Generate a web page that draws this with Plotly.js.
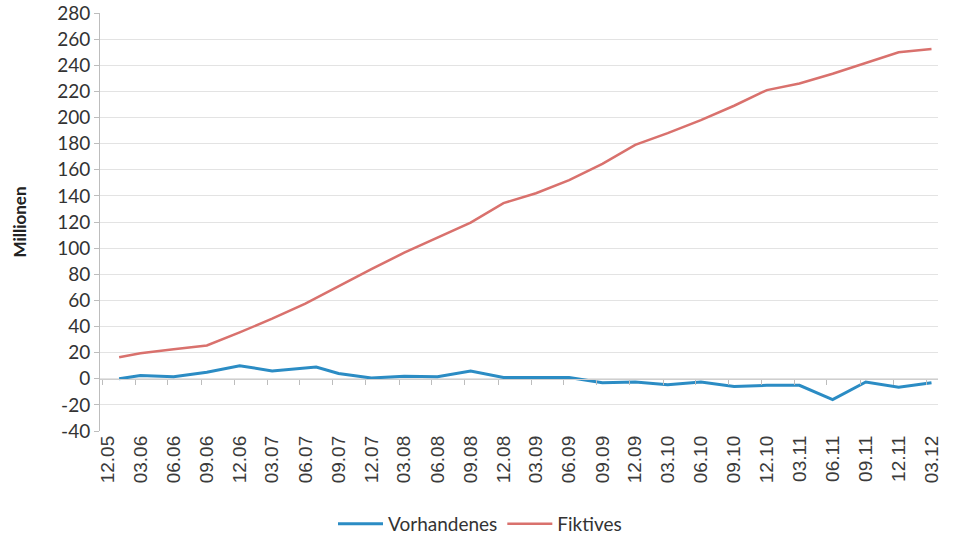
<!DOCTYPE html>
<html>
<head>
<meta charset="utf-8">
<script src="https://cdn.plot.ly/plotly-3.0.1.min.js"></script>
<style>
  body { margin: 0; background: #fff; }
  #chart { width: 960px; height: 540px; }
</style>
</head>
<body>
<div id="chart"></div>
<script>
// Vorhandenes (blue), month dates
var vorhDates = ['2006-01-01', '2006-03-01', '2006-06-01', '2006-09-01', '2006-12-01',
  '2007-03-01', '2007-07-01', '2007-09-01', '2007-12-01', '2008-03-01', '2008-06-01',
  '2008-09-01', '2008-12-01', '2009-03-01', '2009-06-01', '2009-09-01', '2009-12-01',
  '2010-03-01', '2010-06-01', '2010-09-01', '2010-12-01', '2011-03-01', '2011-06-01',
  '2011-09-01', '2011-12-01', '2012-03-01'];
var vorhValues = [0, 2.5, 1.5, 5, 10, 6, 9, 4, 0.5, 2, 1.5, 6, 1, 1, 1, -3, -2.5,
  -4.5, -2.5, -6, -5, -5, -16, -2.5, -6.5, -3];

// Fiktives (red)
var fiktDates = ['2006-01-01', '2006-03-01', '2006-06-01', '2006-09-01', '2006-12-01',
  '2007-03-01', '2007-06-01', '2007-09-01', '2007-12-01', '2008-03-01', '2008-06-01',
  '2008-09-01', '2008-12-01', '2009-03-01', '2009-06-01', '2009-09-01', '2009-12-01',
  '2010-03-01', '2010-06-01', '2010-09-01', '2010-12-01', '2011-03-01', '2011-06-01',
  '2011-09-01', '2011-12-01', '2012-03-01'];
var fiktValues = [16.5, 19.5, 22.5, 25.5, 35.5, 46, 57.5, 71, 84, 96.5, 108, 119.5,
  134.5, 142, 152, 164.5, 179, 188, 198, 209, 221, 226, 233.5, 242, 250, 252.5];

var yTicks = [-40, -20, 0, 20, 40, 60, 80, 100, 120, 140, 160, 180, 200, 220, 240, 260, 280];
var yTickText = ['-40', '-20', '0', '20', '40', '60', '80', '100', '120', '140', '160',
  '180', '200', '220', '240', '260', '280'];

var blue = '#2b8cc4';
var red = '#d9716d';
var xRange = ['2005-11-09', '2012-03-19'];

var data = [
  {x: vorhDates, y: vorhValues, name: 'Vorhandenes', type: 'scatter', mode: 'lines',
   xaxis: 'x2', line: {color: blue, width: 3}},
  {x: fiktDates, y: fiktValues, name: 'Fiktives', type: 'scatter', mode: 'lines',
   line: {color: red, width: 2.5}}
];

var layout = {
  width: 960, height: 540,
  margin: {l: 100, r: 22, t: 13, b: 109, autoexpand: false},
  paper_bgcolor: '#fff', plot_bgcolor: '#fff',
  showlegend: true,
  legend: {orientation: 'h', x: 0.5, xref: 'container', xanchor: 'center',
    y: 0.03, yref: 'container', yanchor: 'middle', itemwidth: 45,
    font: {family: 'Lato', size: 19, color: '#333'}},
  xaxis: {
    type: 'date', range: xRange, automargin: false,
    tick0: '2005-12-01', dtick: 'M3', tickformat: '%m.%y',
    tickangle: -90,
    tickfont: {family: 'Liberation Sans', size: 19, color: '#3a3a3a'},
    showgrid: false, showline: false, zeroline: false, ticks: ''
  },
  xaxis2: {
    type: 'date', overlaying: 'x', anchor: 'free', position: 0.125,
    range: xRange, automargin: false,
    tick0: '2005-11-16', dtick: 'M3',
    showticklabels: false, showgrid: false, showline: true, linecolor: '#cfcfcf',
    ticks: 'outside', ticklen: 5, tickcolor: '#bdbdbd', zeroline: false
  },
  yaxis: {
    range: [-40, 280], tickvals: yTicks, ticktext: yTickText, automargin: false,
    tickfont: {family: 'Lato', size: 19, color: '#333'},
    gridcolor: '#e3e3e3', zeroline: false,
    showline: true, linecolor: '#bdbdbd',
    ticks: 'outside', ticklen: 5, tickcolor: '#bdbdbd',
    title: {text: '<b>Millionen</b>', font: {family: 'Lato', size: 17, color: '#222'}, standoff: 26}
  }
};

Plotly.newPlot('chart', data, layout, {displayModeBar: false, staticPlot: true});
</script>
</body>
</html>
